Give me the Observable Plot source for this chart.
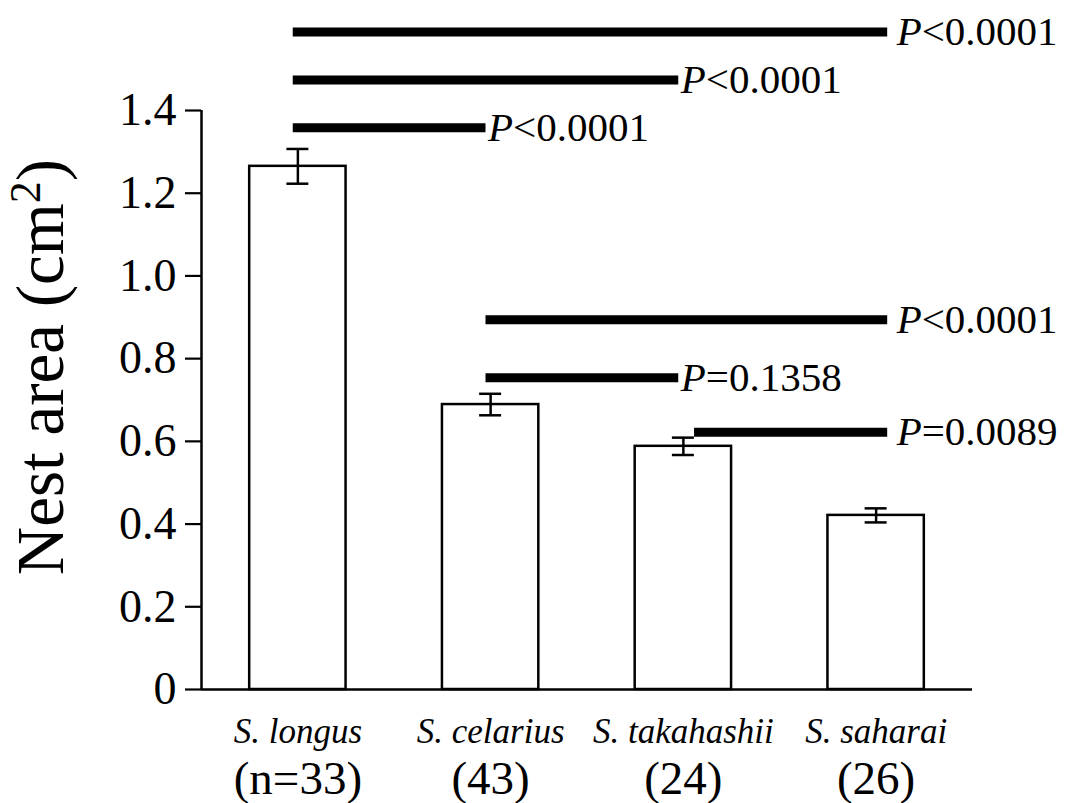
<!DOCTYPE html>
<html>
<head>
<meta charset="utf-8">
<script src="https://cdn.jsdelivr.net/npm/d3@7"></script>
<script src="https://cdn.jsdelivr.net/npm/@observablehq/plot@0.6"></script>
<style>
  html, body { margin: 0; padding: 0; background: #fff; }
  #chart svg { display: block; }
</style>
</head>
<body>
<div id="chart"></div>
<script>
// ---- data ----
const species = ["S. longus", "S. celarius", "S. takahashii", "S. saharai"];
const sampleLabels = ["(n=33)", "(43)", "(24)", "(26)"];
const meanArea = [1.265, 0.689, 0.588, 0.421];
const seArea = [0.042, 0.026, 0.021, 0.017];

const sigFrom = ["S. longus", "S. longus", "S. longus", "S. celarius", "S. celarius", "S. takahashii"];
const sigTo = ["S. saharai", "S. takahashii", "S. celarius", "S. saharai", "S. takahashii", "S. saharai"];
const sigLevel = [1.590, 1.474, 1.358, 0.894, 0.754, 0.622];
const sigText = ["P<0.0001", "P<0.0001", "P<0.0001", "P<0.0001", "P=0.1358", "P=0.0089"];

const yTicks = [0, 0.2, 0.4, 0.6, 0.8, 1.0, 1.2, 1.4];
const yLabel = "Nest area (cm2)";

// ---- tables ----
const bars = species.map((s, k) => ({
  species: s, i: k + 1, value: meanArea[k], se: seArea[k], n: sampleLabels[k]
}));
const idx = s => species.indexOf(s) + 1;
const last = species[species.length - 1];
const sigs = sigFrom.map((f, k) => {
  const from = idx(f), to = idx(sigTo[k]);
  const x1 = from + (sigFrom[k] === "S. takahashii" ? 0.058 : -0.024);
  const x2 = to + (sigTo[k] === last ? 0.06 : -0.024);
  return {x1, x2, y: sigLevel[k], label: sigText[k], far: sigTo[k] === last};
});

const serif = "'Liberation Serif', 'Times New Roman', Times, serif";
const W = 1068, H = 803;

const chart = Plot.plot({
  width: W,
  height: H,
  marginLeft: 201,
  marginRight: 96,
  marginTop: 110,
  marginBottom: 114,
  style: {fontFamily: serif, fontSize: "46px", background: "#fff", color: "#000"},
  x: {type: "linear", domain: [0.5, 4.5], axis: null},
  y: {domain: [0, 1.4], axis: null},
  marks: [
    // y axis line and ticks
    Plot.ruleX([0.5], {y1: 0, y2: 1.4, stroke: "black", strokeWidth: 2.5}),
    Plot.axisY({
      ticks: yTicks,
      tickFormat: d => d === 0 ? "0" : d.toFixed(1),
      tickSize: 16,
      tickPadding: 9,
      strokeWidth: 2.2,
      label: null,
      fontSize: 46,
      fill: "black"
    }),
    // bars
    Plot.rect(bars, {
      x1: d => d.i - 0.25, x2: d => d.i + 0.25,
      y1: 0, y2: "value",
      fill: "white", stroke: "black", strokeWidth: 2.5
    }),
    // error bars
    Plot.ruleX(bars, {x: "i", y1: d => d.value - d.se, y2: d => d.value + d.se, stroke: "black", strokeWidth: 2.5}),
    Plot.ruleY(bars, {y: d => d.value + d.se, x1: d => d.i - 0.057, x2: d => d.i + 0.057, stroke: "black", strokeWidth: 2.5}),
    Plot.ruleY(bars, {y: d => d.value - d.se, x1: d => d.i - 0.057, x2: d => d.i + 0.057, stroke: "black", strokeWidth: 2.5}),
    // x axis line
    Plot.ruleY([0], {stroke: "black", strokeWidth: 2.5}),
    // significance lines
    Plot.ruleY(sigs, {y: "y", x1: "x1", x2: "x2", stroke: "black", strokeWidth: 9}),
    Plot.text(sigs, {
      x: "x2", y: "y", text: "label",
      textAnchor: "start", lineAnchor: "middle",
      fontSize: 41, fill: "black"
    }),
    // category labels
    Plot.text(bars, {
      x: "i", frameAnchor: "bottom", text: "species",
      dy: 53, lineAnchor: "bottom", textAnchor: "middle",
      fontSize: 35, fontStyle: "italic", fill: "black"
    }),
    Plot.text(bars, {
      x: "i", frameAnchor: "bottom", text: "n",
      dy: 104, lineAnchor: "bottom", textAnchor: "middle",
      fontSize: 47, fill: "black"
    }),
    // y axis title
    Plot.text([yLabel], {
      frameAnchor: "left", text: d => d,
      dx: -139, dy: -33, rotate: -90,
      textAnchor: "middle", lineAnchor: "bottom",
      fontSize: 67, fill: "black"
    })
  ]
});

document.getElementById("chart").appendChild(chart);

// post-process: italic P and superscript in title; shift P labels
const svgNS = "http://www.w3.org/2000/svg";
chart.querySelectorAll("text").forEach(t => {
  const s = t.textContent;
  if (/^P[<=]/.test(s)) {
    t.textContent = "";
    const p = document.createElementNS(svgNS, "tspan");
    p.setAttribute("font-style", "italic");
    p.textContent = "P";
    const rest = document.createElementNS(svgNS, "tspan");
    rest.textContent = s.slice(1);
    t.appendChild(p); t.appendChild(rest);
  } else if (s === yLabel) {
    t.textContent = "";
    const a = document.createElementNS(svgNS, "tspan");
    a.textContent = "Nest area (cm";
    const sup = document.createElementNS(svgNS, "tspan");
    sup.setAttribute("font-size", "44");
    sup.setAttribute("dy", "-23");
    sup.textContent = "2";
    const b = document.createElementNS(svgNS, "tspan");
    b.setAttribute("dy", "23");
    b.textContent = ")";
    t.appendChild(a); t.appendChild(sup); t.appendChild(b);
  }
});
const pTexts = Array.from(chart.querySelectorAll("text")).filter(t => /^P[<=]/.test(t.textContent));
pTexts.forEach((t, k) => {
  const d = sigs[k];
  const shift = d && d.far ? 9 : 2;
  const prev = t.getAttribute("transform") || "";
  t.setAttribute("transform", prev + ` translate(${shift},0)`);
});
</script>
</body>
</html>
